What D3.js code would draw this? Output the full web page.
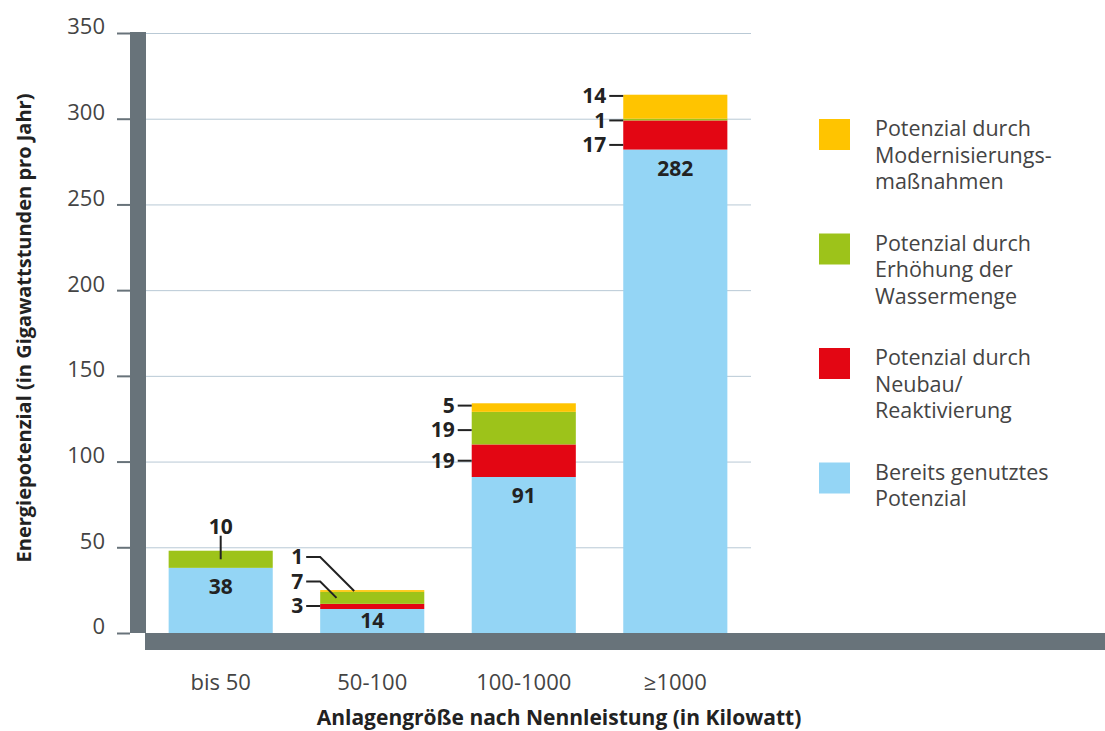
<!DOCTYPE html>
<html>
<head>
<meta charset="utf-8">
<script src="https://cdn.jsdelivr.net/npm/d3@7"></script>
<style>
  body { margin: 0; background: #fff; }
  svg { display: block; }
  text { font-family: "Open Sans", Lato, sans-serif; }
</style>
</head>
<body>
<svg id="chart" width="1105" height="731"></svg>
<script>
// Plant size classes (nominal capacity) and energy potential in GWh per year
const categories = ["bis 50", "50-100", "100-1000", "\u22651000"];
const genutzt        = [38, 14, 91, 282]; // already used potential
const neubau         = [0, 3, 19, 17];    // new construction / reactivation
const wassermenge    = [10, 7, 19, 1];    // more water flow
const modernisierung = [0, 1, 5, 14];     // modernisation
const yTicks = [0, 50, 100, 150, 200, 250, 300, 350];

const seriesKeys   = ["genutzt", "neubau", "wassermenge", "modernisierung"];
const seriesColors = ["#94D5F5", "#E30613", "#9DC31A", "#FFC400"];

const legendItems = [
  { key: "modernisierung", lines: ["Potenzial durch", "Modernisierungs-", "maßnahmen"] },
  { key: "wassermenge",    lines: ["Potenzial durch", "Erhöhung der", "Wassermenge"] },
  { key: "neubau",         lines: ["Potenzial durch", "Neubau/", "Reaktivierung"] },
  { key: "genutzt",        lines: ["Bereits genutztes", "Potenzial"] }
];

const xTitle = "Anlagengröße nach Nennleistung (in Kilowatt)";
const yTitle = "Energiepotenzial (in Gigawattstunden pro Jahr)";

const table = categories.map((c, i) => ({
  cat: c,
  genutzt: genutzt[i],
  neubau: neubau[i],
  wassermenge: wassermenge[i],
  modernisierung: modernisierung[i]
}));

const svg = d3.select("#chart");
const axisGray = "#68737A";
const textDark = "#222";
const font = "'Open Sans', Lato, sans-serif";

const x = d3.scaleBand().domain(categories).range([145, 751])
  .paddingInner(0.313).paddingOuter(0.156);
const y = d3.scaleLinear().domain([0, 350]).range([633, 33]);
const color = d3.scaleOrdinal().domain(seriesKeys).range(seriesColors);

// grid
svg.append("g").selectAll("line").data(yTicks).join("line")
  .attr("x1", 146).attr("x2", 751)
  .attr("y1", d => y(d) + 0.5).attr("y2", d => y(d) + 0.5)
  .attr("stroke", "#B9C9D5").attr("stroke-width", 1);

// stacked bars
const stacked = d3.stack().keys(seriesKeys)(table);
svg.append("g").selectAll("g").data(stacked).join("g")
  .attr("fill", d => color(d.key))
  .selectAll("rect").data(d => d).join("rect")
  .attr("x", d => x(d.data.cat))
  .attr("width", x.bandwidth())
  .attr("y", d => y(d[1]))
  .attr("height", d => y(d[0]) - y(d[1]));

// heavy axis frame
svg.append("rect").attr("x", 130).attr("y", 32).attr("width", 16).attr("height", 601).attr("fill", axisGray);
svg.append("rect").attr("x", 145).attr("y", 633).attr("width", 960).attr("height", 17).attr("fill", axisGray);

// y axis
const yAxis = svg.append("g").attr("transform", "translate(130,0)")
  .call(d3.axisLeft(y).tickValues(yTicks).tickSize(13).tickPadding(12));
yAxis.select(".domain").remove();
yAxis.selectAll(".tick line").attr("stroke", axisGray).attr("stroke-width", 2);
yAxis.selectAll(".tick text").attr("dy", "0.04em")
  .attr("font-family", font).attr("font-size", 22).attr("fill", "#444");

// x axis labels
const xAxis = svg.append("g").attr("transform", "translate(0,650)")
  .call(d3.axisBottom(x).tickSize(0).tickPadding(24));
xAxis.select(".domain").remove();
xAxis.selectAll(".tick text")
  .attr("font-family", font).attr("font-size", 22).attr("fill", "#444");

// axis titles
svg.append("text").attr("x", 559).attr("y", 725).attr("text-anchor", "middle")
  .attr("font-weight", 700).attr("font-size", 21).attr("fill", textDark).text(xTitle);
svg.append("text").attr("transform", "translate(31,328) rotate(-90)").attr("text-anchor", "middle")
  .attr("font-weight", 700).attr("font-size", 20).attr("fill", textDark).text(yTitle);

// value labels
const labels = svg.append("g").attr("font-weight", 700).attr("font-size", 21).attr("fill", textDark);
table.forEach((row, i) => {
  const bx = x(row.cat), bw = x.bandwidth(), cx = bx + bw / 2;
  // used potential: inside the blue segment
  const top0 = y(row.genutzt), bot0 = y(0);
  labels.append("text").attr("x", cx).attr("y", Math.min(top0 + 19, (top0 + bot0) / 2))
    .attr("dy", "0.35em").attr("text-anchor", "middle").text(row.genutzt);

  const extras = [];
  let base = row.genutzt;
  seriesKeys.slice(1).forEach(k => {
    const v = row[k];
    if (v > 0) {
      const yTop = y(base + v), yBot = y(base);
      extras.push({ v, yTop, yBot, mid: (yTop + yBot) / 2, ly: (yTop + yBot) / 2 });
    }
    base += v;
  });

  if (extras.length === 1) {
    const e = extras[0];
    const barTop = y(base);
    labels.append("text").attr("x", cx).attr("y", barTop - 24).attr("dy", "0.35em")
      .attr("text-anchor", "middle").text(e.v);
    labels.append("line").attr("x1", cx).attr("x2", cx).attr("y1", barTop - 15).attr("y2", e.mid)
      .attr("stroke", textDark).attr("stroke-width", 2);
    return;
  }

  // spread side labels so they keep a minimum vertical gap
  const gap = 24.5, maxY = y(0) - 27;
  for (let it = 0; it < 200; it++) {
    for (let j = 0; j < extras.length - 1; j++) {
      const a = extras[j], b = extras[j + 1];
      const d = a.ly - b.ly;
      if (d < gap) { const p = (gap - d) / 2; a.ly += p; b.ly -= p; }
    }
    extras.forEach(e => { e.ly = Math.min(e.ly, maxY); });
  }
  extras.forEach(e => {
    labels.append("text").attr("x", bx - 17).attr("y", e.ly).attr("dy", "0.35em")
      .attr("text-anchor", "end").text(e.v);
    const inside = e.ly >= e.yTop - 1 && e.ly <= e.yBot + 1;
    const pts = [[bx - 14, e.ly], [bx, e.ly]];
    if (!inside) pts.push([bx + Math.abs(e.mid - e.ly), e.mid]);
    labels.append("path").attr("d", d3.line()(pts)).attr("fill", "none")
      .attr("stroke", textDark).attr("stroke-width", 2);
  });
});

// legend
const legend = svg.append("g").attr("transform", "translate(819,119)");
legendItems.forEach((item, i) => {
  const g = legend.append("g").attr("transform", `translate(0,${i * 114.5})`);
  g.append("rect").attr("width", 31).attr("height", 31).attr("fill", color(item.key));
  g.selectAll("text").data(item.lines).join("text")
    .attr("x", 56).attr("y", (d, j) => 17 + j * 26.5)
    .attr("font-size", 21.5).attr("fill", "#444").text(d => d);
});
</script>
</body>
</html>
